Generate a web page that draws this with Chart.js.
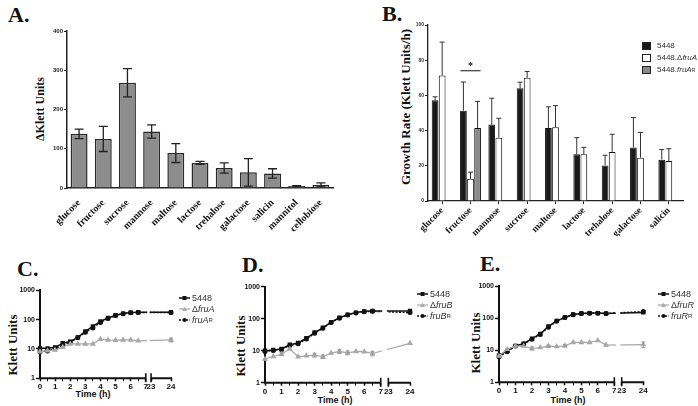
<!DOCTYPE html>
<html><head><meta charset="utf-8">
<script src="https://cdn.jsdelivr.net/npm/chart.js@4.4.0/dist/chart.umd.min.js"></script>
<style>
body{margin:0;width:698px;height:406px;position:relative;background:#fff;overflow:hidden;font-family:'Liberation Sans',Arial,sans-serif}
canvas{position:absolute}
.ttl{position:absolute;font-family:'Liberation Serif','Times New Roman',serif;font-weight:bold;font-size:22px;line-height:22px;color:#111}
.ytitle{position:absolute;font-family:'Liberation Serif','Times New Roman',serif;font-weight:bold;font-size:13px;line-height:13px;white-space:nowrap;transform:translate(-50%,-50%) rotate(-90deg);color:#111}
.xtitle{position:absolute;font-weight:bold;font-size:9px;line-height:9px;transform:translate(-50%,-50%);white-space:nowrap;color:#111}
.lg{position:absolute;font-size:9px;color:#333;line-height:10px;white-space:nowrap}
.lg div{height:11px;display:flex;align-items:center}
.lg svg{margin-right:2px}
.lg sub{font-size:6px;vertical-align:-2px;font-style:normal}
.blg{position:absolute;font-size:8px;color:#333;line-height:8px;white-space:nowrap}
.blg div{height:12px;display:flex;align-items:center}
.blg span.sw{display:inline-block;width:7px;height:6px;border:1px solid #222;margin-right:6px}
.blg sub{font-size:5px;vertical-align:-2px}
</style></head>
<body>
<div class="ttl" style="left:8px;top:4px">A.</div>
<div class="ttl" style="left:382px;top:3px">B.</div>
<div class="ttl" style="left:17px;top:258px">C.</div>
<div class="ttl" style="left:242px;top:254px">D.</div>
<div class="ttl" style="left:480px;top:253px">E.</div>

<div class="ytitle" style="left:40px;top:109px;font-size:12px">ΔKlett Units</div>
<div class="ytitle" style="left:405px;top:107px">Growth Rate (Klett Units/h)</div>
<div class="ytitle" style="left:12px;top:345px">Klett Units</div>
<div class="ytitle" style="left:240px;top:346px">Klett Units</div>
<div class="ytitle" style="left:475px;top:343px">Klett Units</div>
<div class="xtitle" style="left:93px;top:394px">Time (h)</div>
<div class="xtitle" style="left:335px;top:400px">Time (h)</div>
<div class="xtitle" style="left:568px;top:400px">Time (h)</div>

<canvas id="cA"></canvas>
<canvas id="cB"></canvas>
<canvas id="cC"></canvas>
<canvas id="cD"></canvas>
<canvas id="cE"></canvas>

<div class="blg" style="left:642px;top:40px">
  <div><span class="sw" style="background:#1a1a1a"></span>5448</div>
  <div><span class="sw" style="background:#fff"></span>5448.Δ<i>fruA</i></div>
  <div><span class="sw" style="background:#8a8a8a"></span>5448.<i>fruA</i><sub>R</sub></div>
</div>
<div id="lgC" class="lg" style="left:179px;top:292px"></div>
<div id="lgD" class="lg" style="left:417px;top:288px"></div>
<div id="lgE" class="lg" style="left:658px;top:288px"></div>

<script>
// ---------- Panel A data ----------
const sugarsA = ['glucose','fructose','sucrose','mannose','maltose','lactose','trehalose','galactose','salicin','mannitol','cellobiose'];
const deltaKlett = [138,125,268,144,89,64,51,40,37,5,8];
const deltaKlettErr = [12,32,36,17,24,4,13,35,12,1,5];
const ticksA = [0,100,200,300,400];

// ---------- Panel B data ----------
const sugarsB = ['glucose','fructose','mannose','sucrose','maltose','lactose','trehalose','galactose','salicin'];
const rate5448 = [57.2,51.3,43.4,64.0,41.5,26.5,20.2,30.4,23.5];
const rate5448Err = [2.0,16.3,15.0,3.5,12.0,9.5,5.8,17.0,5.7];
const rateDeltaFruA = [71.3,12.6,36.0,70.0,41.9,26.5,27.9,24.6,22.7];
const rateDeltaFruAErr = [19.0,3.8,11.0,3.6,12.3,4.0,10.0,14.3,7.0];
const rateFruAR = [null,41.5,null,null,null,null,null,null,null];
const rateFruARErr = [null,15.1,null,null,null,null,null,null,null];
const ticksB = [0,20,40,60,80,100];
const sigCategory = 'fructose';
const sigLevel = 74;

// ---------- Growth curves (C, D, E) ----------
const times = [0,0.5,1,1.5,2,2.5,3,3.5,4,4.5,5,5.5,6,6.5,24];
const timeTicks = [0,0.5,1,1.5,2,2.5,3,3.5,4,4.5,5,5.5,6,6.5,7,23,24];
const klettTicks = [1,10,100,1000];

const c5448 = [10.5,10.5,11.4,15.7,17.9,25,39.6,58.8,87,114,141,161,174,179,179];
const cDeltaFruA = [8.1,8.7,9.2,11.5,14.8,14.8,14.8,14.8,21.5,20.4,20,20.4,20.4,18.9,20.4];
const cDeltaFruAErr = [0,0,0,0,0,0,0,0,0,0,0,0,0,0,3];
const cFruAR = [8.1,8.5,10.5,13,17,24,37,52,80,110,138,160,172,176,176];

const d5448 = [10,10.6,11.3,15.5,17.5,24.5,37,52,78,107,134,155,170,174,174];
const dDeltaFruB = [5.5,6.6,7.8,11.3,6.5,6.9,7.3,6.5,8.4,9.5,8.6,9.5,9.3,8.2,17];
const dDeltaFruBErr = [0,0,0.8,0,0,0,1,0.8,0,1.3,1.2,0,0,1.3,0];
const dFruBR = [9.5,10.2,11,14.5,16.5,23,35,50,76,104,130,152,166,170,155];

const e5448 = [6.9,9.5,13.7,16,23,32,55,82,105,130,140,143,143,138,150];
const eDeltaFruR = [6.6,10.7,13.4,13.4,11.3,12.1,13.4,13,13.7,17.5,17.5,17.5,20,14.4,15];
const eDeltaFruRErr = [0,0,0,0,1.2,0,1,0,1,0,0,0,0,0,3];
const eFruRR = [6.3,9,13.5,15.5,22,31,52,80,104,128,138,142,142,140,160];

// ---------- helpers ----------
Chart.defaults.font.family = "'Liberation Sans', Arial, sans-serif";
Chart.defaults.color = '#111';
const SERIF = "'Liberation Serif','Times New Roman',serif";

function place(id, L, T, W, H){
  const c = document.getElementById(id);
  c.width = W; c.height = H;
  c.style.left = L+'px'; c.style.top = T+'px';
  c.style.width = W+'px'; c.style.height = H+'px';
  return c;
}
function fit(L,T,W,H,a){
  return {padding:{left:0, top:a.t-T, right:L+W-a.r, bottom:0}, yw:a.l-L, xh:T+H-a.b};
}

const errorBars = {
  id:'errorBars',
  afterDatasetsDraw(chart){
    const ctx = chart.ctx;
    chart.data.datasets.forEach((ds,di)=>{
      if(!ds.errors) return;
      const meta = chart.getDatasetMeta(di);
      const ys = chart.scales[meta.yAxisID];
      meta.data.forEach((el,i)=>{
        const e = ds.errors[i];
        if(e==null || !e) return;
        const raw = ds.data[i];
        const v = (raw && typeof raw==='object') ? raw.y : raw;
        if(v==null) return;
        const yt = ys.getPixelForValue(v+e);
        const yb = ds.errMode==='up' ? ys.getPixelForValue(v) : ys.getPixelForValue(v-e);
        const cw = ds.capW || 3;
        ctx.save();
        ctx.strokeStyle = ds.errColor || '#222';
        ctx.lineWidth = ds.errWidth || 1;
        ctx.beginPath();
        ctx.moveTo(el.x, yt); ctx.lineTo(el.x, yb);
        ctx.moveTo(el.x-cw, yt); ctx.lineTo(el.x+cw, yt);
        if(ds.errMode!=='up'){ ctx.moveTo(el.x-cw, yb); ctx.lineTo(el.x+cw, yb); }
        ctx.stroke();
        ctx.restore();
      });
    });
  }
};

// ---------- Panel A ----------
(function(){
  const L=0,T=22,W=345,H=210;
  const f = fit(L,T,W,H,{l:67,t:31,r:333,b:188});
  new Chart(place('cA',L,T,W,H), {
    type:'bar',
    data:{labels:sugarsA, datasets:[{
      data:deltaKlett, errors:deltaKlettErr, errMode:'both', capW:4.5, errWidth:1.3, errColor:'#222',
      backgroundColor:'#8d8d8d', borderColor:'#2a2a2a', borderWidth:1.5,
      barPercentage:0.7, categoryPercentage:1
    }]},
    options:{
      responsive:false, animation:false,
      plugins:{legend:{display:false}, tooltip:{enabled:false}},
      layout:{padding:f.padding},
      scales:{
        x:{
          grid:{display:false},
          border:{color:'#222', width:1.5},
          ticks:{minRotation:45, maxRotation:45, autoSkip:false, padding:1,
            font:{family:SERIF, weight:'bold', size:10}, color:'#111'},
          afterFit:s=>{s.height=f.xh;}
        },
        y:{
          min:0, max:400,
          afterBuildTicks:s=>{s.ticks = ticksA.map(v=>({value:v}));},
          ticks:{font:{size:6, weight:'bold'}, color:'#222', padding:1},
          grid:{drawOnChartArea:false, tickLength:3, color:'#222', tickWidth:1},
          border:{color:'#222', width:1.5},
          afterFit:s=>{s.width=f.yw;}
        }
      }
    },
    plugins:[errorBars]
  });
})();

// ---------- Panel B ----------
(function(){
  const L=350,T=14,W=348,H=222;
  const f = fit(L,T,W,H,{l:428,t:25,r:683,b:201});
  const sigPlugin = {
    id:'sig',
    afterDatasetsDraw(chart){
      const i = sugarsB.indexOf(sigCategory);
      const a = chart.getDatasetMeta(0).data[i], b = chart.getDatasetMeta(2).data[i];
      const y = chart.scales.y.getPixelForValue(sigLevel);
      const ctx = chart.ctx;
      ctx.save();
      ctx.strokeStyle='#111'; ctx.lineWidth=1;
      ctx.beginPath(); ctx.moveTo(a.x-3,y); ctx.lineTo(b.x+3,y); ctx.stroke();
      ctx.fillStyle='#111'; ctx.font="bold 10px "+SERIF; ctx.textAlign='center'; ctx.textBaseline='bottom';
      ctx.fillText('*', (a.x+b.x)/2, y+1);
      ctx.restore();
    }
  };
  const common = {barPercentage:0.95, categoryPercentage:0.75, borderWidth:1, borderColor:'#111',
    errMode:'up', capW:2.5, errWidth:1, errColor:'#333'};
  new Chart(place('cB',L,T,W,H), {
    type:'bar',
    data:{labels:sugarsB, datasets:[
      Object.assign({label:'5448', data:rate5448, errors:rate5448Err, backgroundColor:'#1a1a1a'}, common),
      Object.assign({label:'5448.ΔfruA', data:rateDeltaFruA, errors:rateDeltaFruAErr, backgroundColor:'#ffffff'}, common),
      Object.assign({label:'5448.fruAR', data:rateFruAR, errors:rateFruARErr, backgroundColor:'#8a8a8a'}, common)
    ]},
    options:{
      responsive:false, animation:false,
      plugins:{legend:{display:false}, tooltip:{enabled:false}},
      layout:{padding:f.padding},
      scales:{
        x:{
          grid:{display:true, drawOnChartArea:false, offset:false, tickLength:3, color:'#222'},
          border:{color:'#222', width:1.3},
          ticks:{minRotation:45, maxRotation:45, autoSkip:false, padding:1,
            font:{family:SERIF, weight:'bold', size:9.5}, color:'#111'},
          afterFit:s=>{s.height=f.xh;}
        },
        y:{
          min:0, max:100,
          afterBuildTicks:s=>{s.ticks = ticksB.map(v=>({value:v}));},
          ticks:{font:{size:5, weight:'bold'}, color:'#333', padding:1},
          grid:{drawOnChartArea:false, tickLength:3, color:'#222'},
          border:{color:'#222', width:1.3},
          afterFit:s=>{s.width=f.yw;}
        }
      }
    },
    plugins:[errorBars, sigPlugin]
  });
})();

// ---------- broken time scale ----------
class BrokenTimeScale extends Chart.LinearScale {
  axisValue(v){ const b=this.options.brk; return v<=b.end1 ? v : b.end1 + b.gap + (v-b.start2)*b.k; }
  determineDataLimits(){ this.min = 0; this.max = this.axisValue(this.options.brk.last); }
  buildTicks(){ return this.options.tickValues.map(v=>({value:v})); }
  getPixelForValue(v){ return super.getPixelForValue(this.axisValue(v)); }
  getValueForPixel(p){
    const u = super.getValueForPixel(p), b=this.options.brk;
    return u<=b.end1 ? u : b.start2 + (u-b.end1-b.gap)/b.k;
  }
}
BrokenTimeScale.id = 'brokentime';
BrokenTimeScale.defaults = {};
Chart.register(BrokenTimeScale);

const brokenAxis = {
  id:'brokenAxis',
  afterDatasetsDraw(chart){
    const x = chart.scales.x, b = x.options.brk, ca = chart.chartArea, ctx = chart.ctx;
    const p0 = x.getPixelForValue(0), p7 = x.getPixelForValue(b.end1),
          p23 = x.getPixelForValue(b.start2), p24 = x.getPixelForValue(b.last);
    ctx.save();
    ctx.fillStyle='#fff';
    ctx.fillRect(p7+1.5, ca.top-8, p23-p7-3, ca.bottom-ca.top+7);
    ctx.strokeStyle='#111'; ctx.lineWidth=2;
    ctx.beginPath();
    ctx.moveTo(p0-1, ca.bottom); ctx.lineTo(p7, ca.bottom);
    ctx.moveTo(p23, ca.bottom); ctx.lineTo(p24+1, ca.bottom);
    ctx.stroke();
    ctx.lineWidth=1.6;
    ctx.beginPath();
    ctx.moveTo(p7, ca.bottom-5); ctx.lineTo(p7, ca.bottom+4);
    ctx.moveTo(p23, ca.bottom-5); ctx.lineTo(p23, ca.bottom+4);
    ctx.stroke();
    ctx.restore();
  }
};

function growthChart(id, L,T,W,H, area, brk, wt, mut, mutErr, comp){
  const f = fit(L,T,W,H,area);
  const pts = arr => times.map((t,i)=>({x:t, y:arr[i]}));
  new Chart(place(id,L,T,W,H), {
    type:'line',
    data:{datasets:[
      {data:pts(mut), errors:mutErr, capW:2, errColor:'#999', errWidth:1,
        borderColor:'#a8a8a8', backgroundColor:'#a8a8a8', borderWidth:1.2,
        pointStyle:'triangle', pointRadius:2.3, clip:false},
      {data:pts(wt), borderColor:'#111', backgroundColor:'#111', borderWidth:1.5,
        pointStyle:'rect', pointRadius:2, clip:false},
      {data:pts(comp), borderColor:'#111', backgroundColor:'#111', borderWidth:1.4, borderDash:[2,1.5],
        pointStyle:'circle', pointRadius:1.8, clip:false}
    ]},
    options:{
      responsive:false, animation:false,
      plugins:{legend:{display:false}, tooltip:{enabled:false}},
      layout:{padding:f.padding},
      scales:{
        x:{
          type:'brokentime', brk:brk, tickValues:timeTicks,
          grid:{display:true, drawOnChartArea:false, tickLength:3, color:'#111',
            tickWidth:c=>(c.tick && c.tick.value%1)?1:1.5},
          border:{display:false},
          ticks:{autoSkip:false, maxRotation:0, padding:1, font:{size:8, weight:'bold'}, color:'#111',
            callback:v=>Number.isInteger(v)?String(v):''},
          afterFit:s=>{s.height=f.xh;}
        },
        y:{
          type:'logarithmic', min:1, max:1000,
          afterBuildTicks:s=>{s.ticks = klettTicks.map(v=>({value:v}));},
          ticks:{font:{size:7, weight:'bold'}, color:'#111', padding:1, callback:v=>String(v)},
          grid:{drawOnChartArea:false, tickLength:4, color:'#111', tickWidth:1.5},
          border:{color:'#111', width:2},
          afterFit:s=>{s.width=f.yw;}
        }
      }
    },
    plugins:[errorBars, brokenAxis]
  });
}

growthChart('cC', 0,280,185,115, {l:40,t:290.3,r:171,b:378.3}, {end1:7,start2:23,last:24,gap:0.35,k:1.32},
  c5448, cDeltaFruA, cDeltaFruAErr, cFruAR);
growthChart('cD', 225,276,195,122, {l:265,t:286.7,r:410,b:382.7}, {end1:7,start2:23,last:24,gap:0.46,k:1.31},
  d5448, dDeltaFruB, dDeltaFruBErr, dFruBR);
growthChart('cE', 460,276,195,122, {l:499,t:286,r:643.3,b:382.3}, {end1:7,start2:23,last:24,gap:0.45,k:1.31},
  e5448, eDeltaFruR, eDeltaFruRErr, eFruRR);

// ---------- legends for growth curves ----------
function sample(kind){
  if(kind==='wt') return '<svg width="11" height="6"><line x1="0" y1="3" x2="11" y2="3" stroke="#111" stroke-width="1.5"/><rect x="3.5" y="1" width="4" height="4" fill="#111"/></svg>';
  if(kind==='mut') return '<svg width="11" height="6"><line x1="0" y1="3" x2="11" y2="3" stroke="#a8a8a8" stroke-width="1.2"/><polygon points="5.5,0.8 8,5 3,5" fill="#a8a8a8"/></svg>';
  return '<svg width="11" height="6"><line x1="0" y1="3" x2="11" y2="3" stroke="#111" stroke-width="1.4" stroke-dasharray="2,1.5"/><circle cx="5.5" cy="3" r="2" fill="#111"/></svg>';
}
function legend(id, gene){
  document.getElementById(id).innerHTML =
    '<div>'+sample('wt')+'5448</div>'+
    '<div>'+sample('mut')+'Δ<i>'+gene+'</i></div>'+
    '<div>'+sample('comp')+'<i>'+gene+'</i><sub>R</sub></div>';
}
legend('lgC','fruA'); legend('lgD','fruB'); legend('lgE','fruR');
</script>
</body></html>
